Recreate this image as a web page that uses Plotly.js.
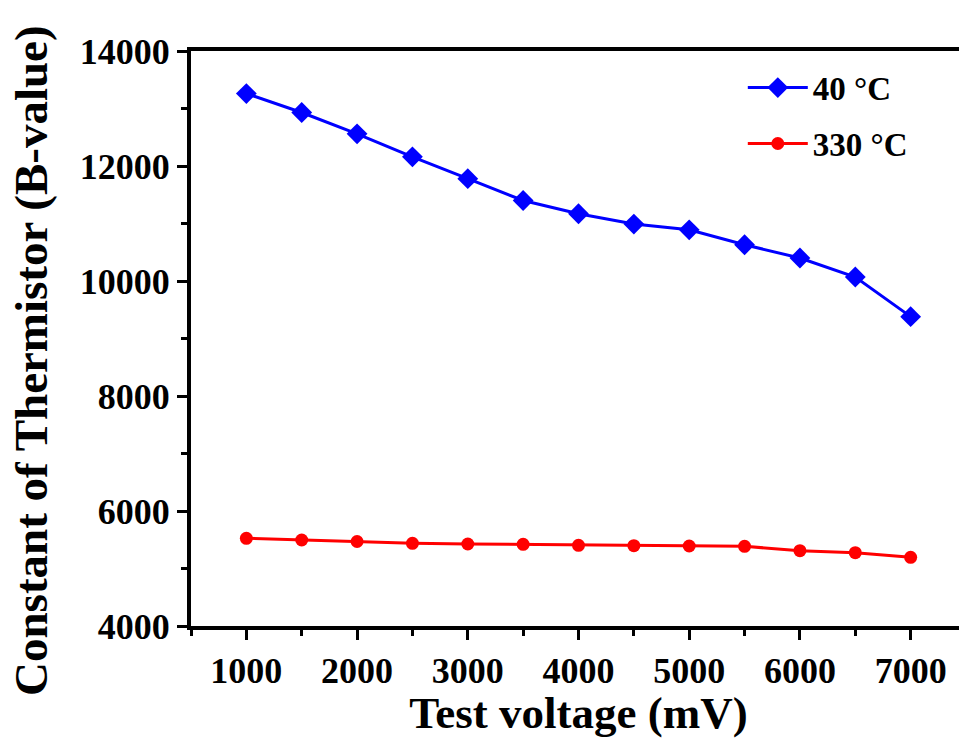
<!DOCTYPE html>
<html>
<head>
<meta charset="utf-8">
<script src="https://cdn.plot.ly/plotly-3.0.1.min.js"></script>
<style>
html,body{margin:0;padding:0;overflow:hidden;background:#fff;}
#chart{width:970px;height:738px;}
</style>
</head>
<body>
<div id="chart"></div>
<script>
const voltage = [1000,1500,2000,2500,3000,3500,4000,4500,5000,5500,6000,6500,7000];
const b40 = [13260,12930,12560,12160,11780,11400,11170,10990,10890,10630,10400,10070,9380];
const b330 = [5525,5496,5470,5438,5426,5420,5403,5397,5391,5385,5310,5275,5194];
const seriesNames = ["40 \u00B0C","330 \u00B0C"];
const xTitle = "Test voltage (mV)";
const yTitle = "Constant of Thermistor (B-value)";

const fontFam = "Liberation Serif, Times New Roman, serif";

const traces = [
  {x: voltage, y: b40, name: seriesNames[0], legendgroup: "a", mode: "lines+markers", type: "scatter",
   line: {color: "#0000ff", width: 3}, marker: {symbol: "diamond", size: 16, color: "#0000ff"}},
  {x: voltage, y: b330, name: seriesNames[1], legendgroup: "b", mode: "lines+markers", type: "scatter",
   line: {color: "#ff0000", width: 3}, marker: {symbol: "circle", size: 13, color: "#ff0000"}}
];

const layout = {
  width: 970, height: 738,
  margin: {l: 191, r: 4, t: 51, b: 112},
  paper_bgcolor: "#fff", plot_bgcolor: "#fff",
  font: {family: fontFam, color: "#000"},
  showlegend: true,
  legend: {x: 0.712, y: 0.985, xanchor: "left", yanchor: "top",
           font: {family: fontFam, size: 33, weight: "bold", color: "#000"},
           bgcolor: "rgba(0,0,0,0)", itemwidth: 60, tracegroupgap: 10},
  xaxis: {
    range: [500, 7500], showgrid: false, zeroline: false,
    showline: true, linecolor: "#000", linewidth: 4, mirror: true,
    ticks: "outside", ticklen: 10, tickwidth: 3, tickcolor: "#000",
    tick0: 1000, dtick: 1000, tickformat: "d",
    minor: {dtick: 500, tick0: 500, ticks: "outside", ticklen: 6, tickwidth: 3, tickcolor: "#000", showgrid: false},
    tickfont: {family: fontFam, size: 36, weight: "bold", color: "#000"},
    title: {text: xTitle, font: {family: fontFam, size: 45, weight: "bold", color: "#000"}, standoff: 4}
  },
  yaxis: {
    range: [4000, 14000], showgrid: false, zeroline: false,
    showline: true, linecolor: "#000", linewidth: 4, mirror: false,
    ticks: "outside", ticklen: 10, tickwidth: 3, tickcolor: "#000",
    tick0: 4000, dtick: 2000, tickformat: "d",
    minor: {dtick: 1000, ticks: "outside", ticklen: 6, tickwidth: 3, tickcolor: "#000", showgrid: false},
    tickfont: {family: fontFam, size: 36, weight: "bold", color: "#000"}
  },
  annotations: [{
    text: yTitle, xref: "paper", yref: "paper", x: -0.2065, y: 0.4626,
    xanchor: "center", yanchor: "middle", textangle: -90, showarrow: false,
    font: {family: fontFam, size: 47, weight: "bold", color: "#000"}
  }]
};

Plotly.newPlot("chart", traces, layout, {displayModeBar: false, staticPlot: true});
</script>
</body>
</html>
